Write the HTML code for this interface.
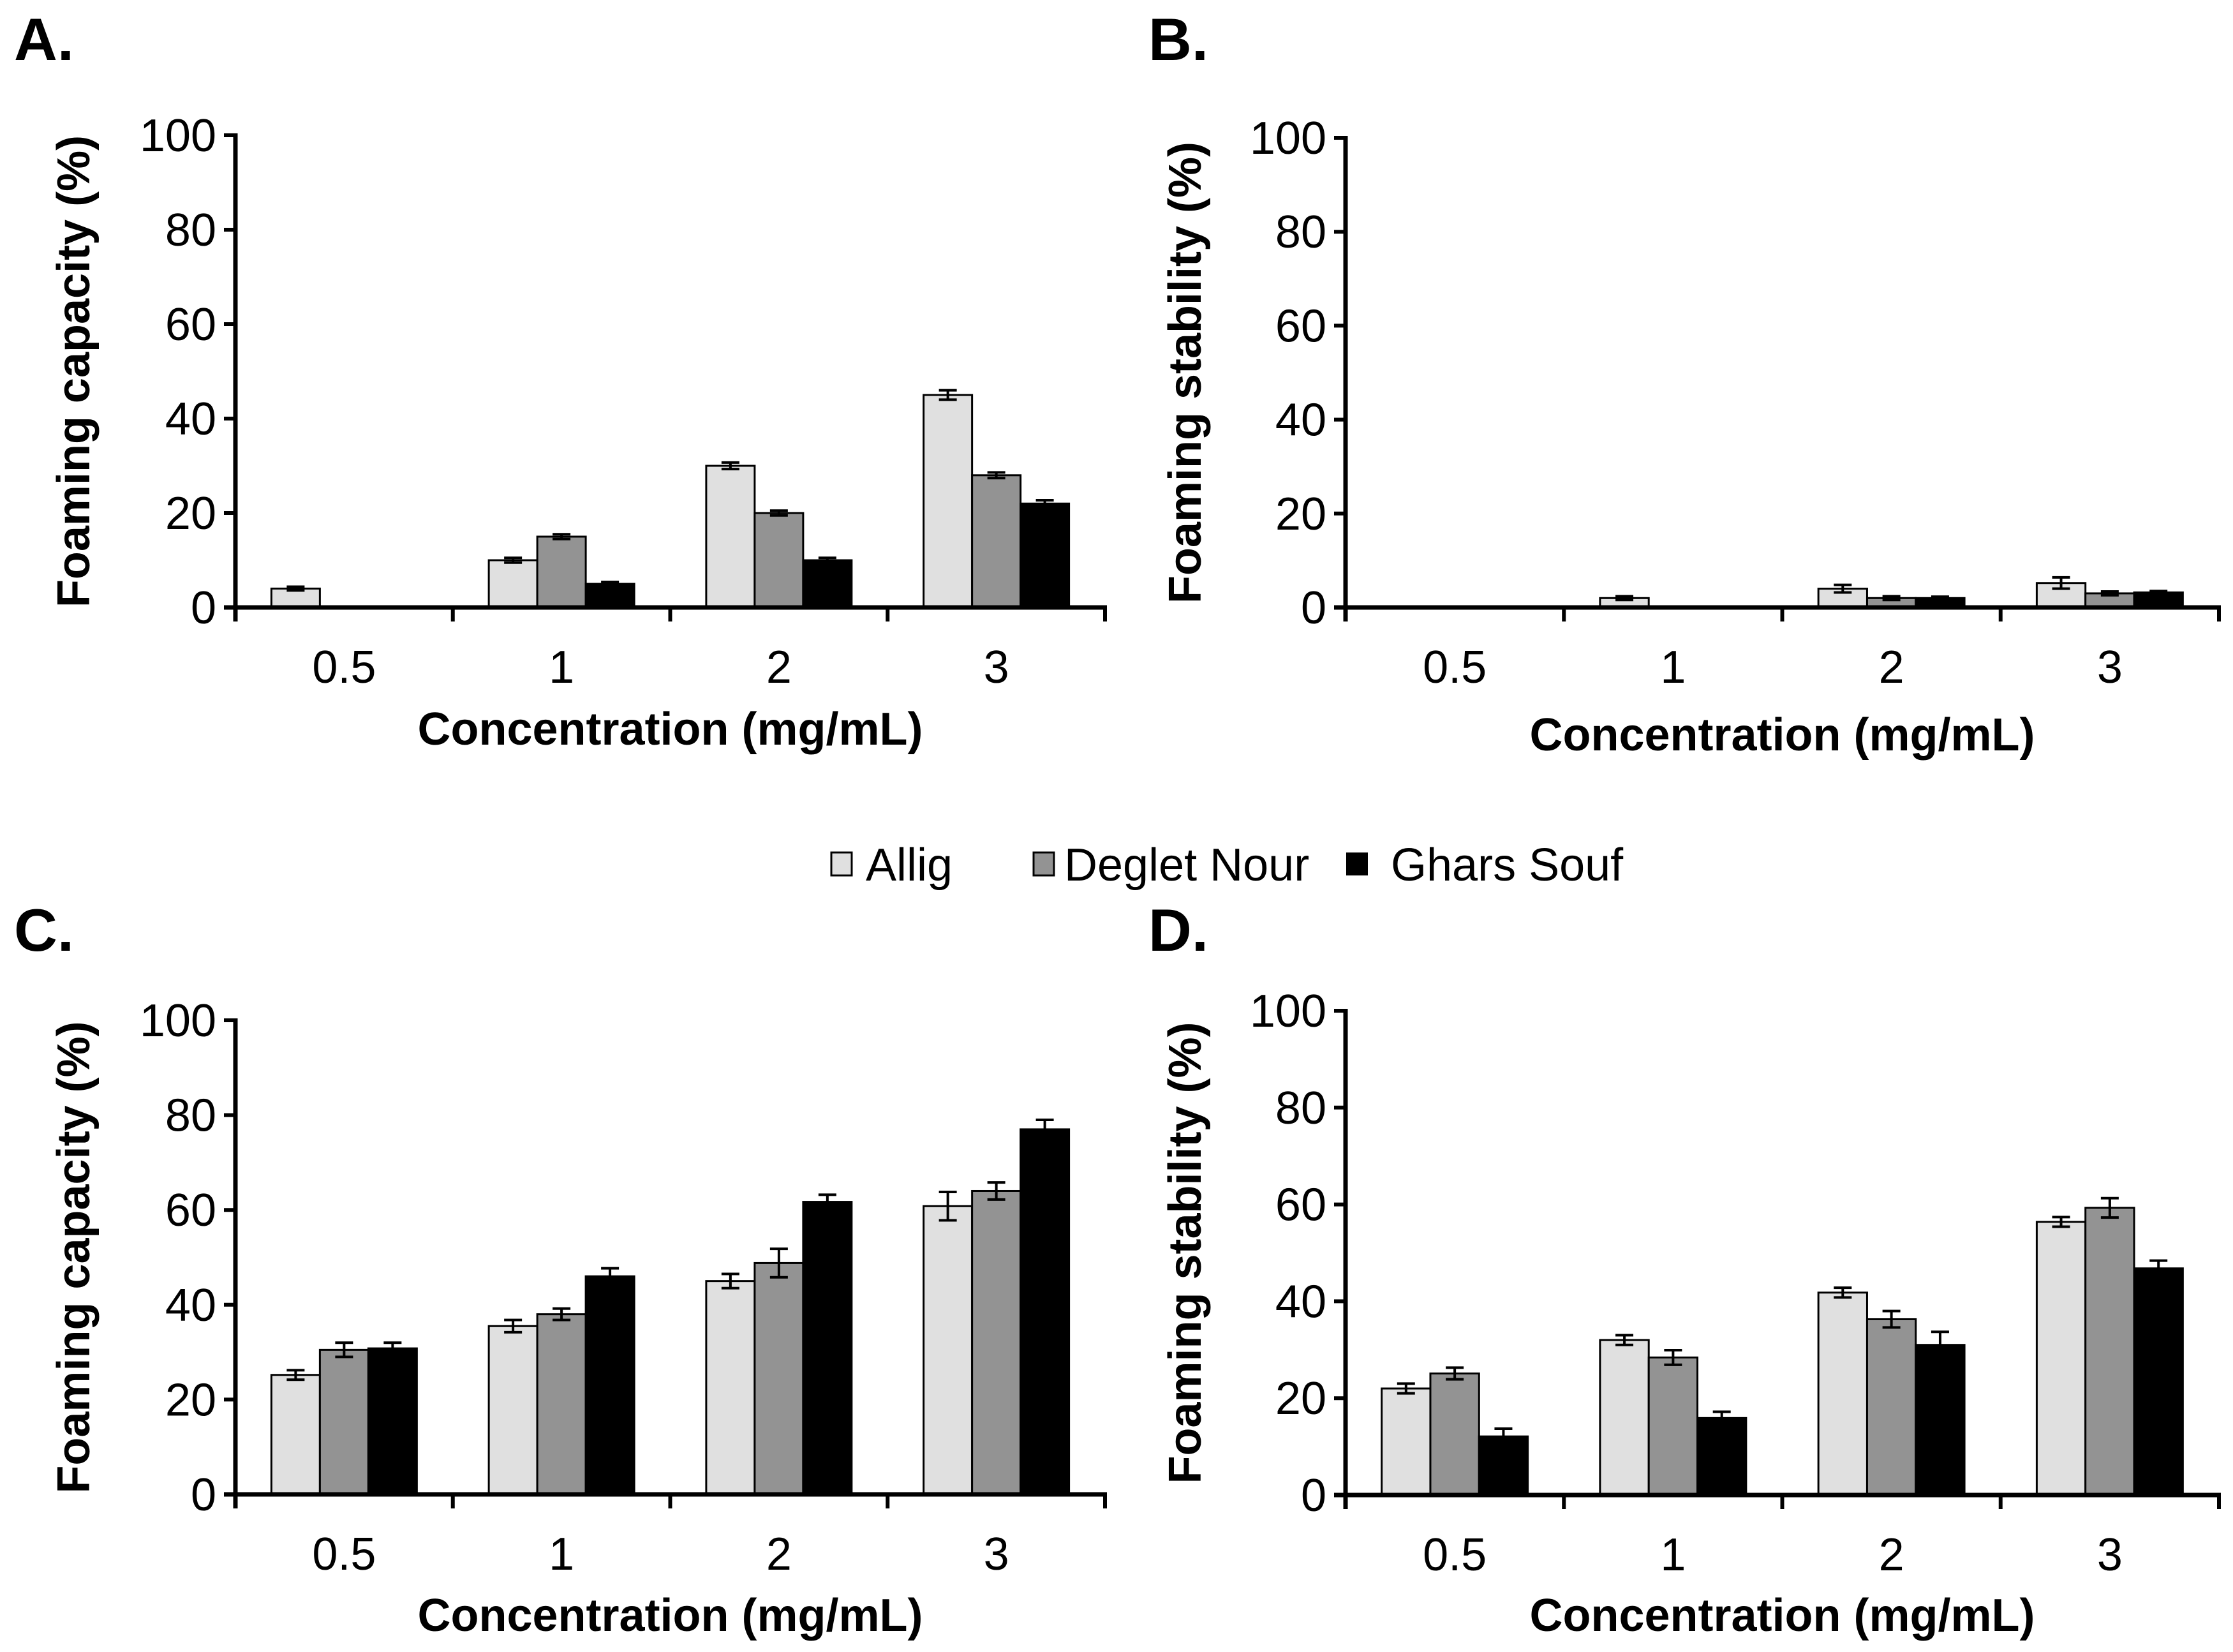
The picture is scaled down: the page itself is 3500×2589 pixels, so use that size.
<!DOCTYPE html>
<html><head><meta charset="utf-8"><style>
html,body{margin:0;padding:0;background:#fff;}
svg{display:block;font-family:"Liberation Sans",Arial,sans-serif;}
</style></head><body>
<svg id="fig" width="3500" height="2589" viewBox="0 0 3500 2589" xmlns="http://www.w3.org/2000/svg">
<text x="22" y="94" font-size="94" font-weight="bold">A.</text>
<text x="1800" y="94" font-size="94" font-weight="bold">B.</text>
<text x="22" y="1490" font-size="94" font-weight="bold">C.</text>
<text x="1800" y="1490" font-size="94" font-weight="bold">D.</text>
<g font-size="72">
  <rect x="1303" y="1336" width="32" height="36" fill="#e0e0e0" stroke="#000" stroke-width="3"/>
  <text x="1357" y="1380">Allig</text>
  <rect x="1620" y="1336" width="32" height="36" fill="#939393" stroke="#000" stroke-width="3"/>
  <text x="1668" y="1380">Deglet Nour</text>
  <rect x="2110" y="1336" width="34" height="36" fill="#000"/>
  <text x="2180" y="1380">Ghars Souf</text>
</g>
</svg>
<script>
const categories = ["0.5","1","2","3"];
const yTicks = [0,20,40,60,80,100];
const seriesNames = ["Allig","Deglet Nour","Ghars Souf"];
const seriesColors = ["#e0e0e0","#939393","#000000"];
const aAllig = [4,10,30,45];
const aDeglet = [0,15,20,28];
const aGhars = [0,5,10,22];
const aAlligErr = [0.4,0.5,0.7,1];
const aDegletErr = [0,0.5,0.5,0.6];
const aGharsErr = [0,0.4,0.5,0.7];
const bAllig = [0,2,4,5.2];
const bDeglet = [0,0,2,3];
const bGhars = [0,0,2,3.2];
const bAlligErr = [0,0.4,0.8,1.2];
const bDegletErr = [0,0,0.4,0.4];
const bGharsErr = [0,0,0.3,0.3];
const cAllig = [25.2,35.5,45,60.8];
const cDeglet = [30.5,38,48.8,64];
const cGhars = [30.8,46,61.7,77];
const cAlligErr = [1,1.3,1.5,3];
const cDegletErr = [1.5,1.2,3,1.8];
const cGharsErr = [1.2,1.7,1.5,2];
const dAllig = [22,32,41.8,56.4];
const dDeglet = [25.1,28.4,36.3,59.3];
const dGhars = [12.1,15.9,31,46.8];
const dAlligErr = [1,1,1,1];
const dDegletErr = [1.2,1.5,1.7,2];
const dGharsErr = [1.6,1.3,2.7,1.6];

const NS = "http://www.w3.org/2000/svg";
const svg = document.getElementById("fig");
function mk(tag, attrs, parent){
  const e = document.createElementNS(NS, tag);
  for (const k in attrs) e.setAttribute(k, attrs[k]);
  (parent||svg).appendChild(e);
  return e;
}
function panel(id, x0, x1, y0, y100, yTitle, yTitleX, xTitleY, vals, errs){
  const g = mk("g", {});
  
  
  const yS = v => y0 + (y100 - y0) * v / 100;
  const cw = (x1 - x0) / categories.length;
  const bw = cw * 0.223;
  const off = (cw - 3 * bw) / 2;
  for (let s = 0; s < 3; s++) {
    for (let i = 0; i < categories.length; i++) {
      const v = vals[s][i];
      if (v <= 0) continue;
      const bx = x0 + i * cw + off + s * bw;
      const r = mk("rect", {x: bx, y: yS(v), width: bw, height: y0 - yS(v), fill: seriesColors[s], stroke: "#000", "stroke-width": 3}, g);
      
      
      const e = errs[s][i];
      if (e > 0) {
        const cx = bx + bw / 2;
        const eg = mk("g", {stroke: "#000", "stroke-width": 4}, g);
        
        
        mk("line", {x1: cx, x2: cx, y1: yS(v + e), y2: yS(v - e)}, eg);
        mk("line", {x1: cx - 14, x2: cx + 14, y1: yS(v + e), y2: yS(v + e)}, eg);
        mk("line", {x1: cx - 14, x2: cx + 14, y1: yS(v - e), y2: yS(v - e)}, eg);
      }
    }
  }
  const ya = mk("line", {x1: x0, x2: x0, y1: y100 - 3, y2: y0 + 22, stroke: "#000", "stroke-width": 7}, g);
  
  
  const xa = mk("line", {x1: x0 - 18, x2: x1 + 3, y1: y0, y2: y0, stroke: "#000", "stroke-width": 7}, g);
  
  
  yTicks.forEach(t => {
    mk("line", {x1: x0 - 18, x2: x0, y1: yS(t), y2: yS(t), stroke: "#000", "stroke-width": 6}, g);
    const tl = mk("text", {x: x0 - 30, y: yS(t) + 25, "font-size": 72, "text-anchor": "end"}, g);
    tl.textContent = t;
    
    
  });
  for (let i = 0; i <= categories.length; i++) {
    const tx = x0 + i * cw;
    mk("line", {x1: tx, x2: tx, y1: y0, y2: y0 + 22, stroke: "#000", "stroke-width": 6}, g);
  }
  categories.forEach((c, i) => {
    const tl = mk("text", {x: x0 + (i + 0.5) * cw, y: y0 + 118, "font-size": 72, "text-anchor": "middle"}, g);
    tl.textContent = c;
    
    
  });
  const xt = mk("text", {x: (x0 + x1) / 2, y: xTitleY, "font-size": 72, "font-weight": "bold", "text-anchor": "middle"}, g);
  xt.textContent = "Concentration (mg/mL)";
  
  
  const ycy = (y0 + y100) / 2;
  const yt = mk("text", {x: yTitleX, y: ycy, "font-size": 72, "font-weight": "bold", "text-anchor": "middle", transform: "rotate(-90 " + yTitleX + " " + ycy + ")"}, g);
  yt.textContent = yTitle;
  
  
}
panel("a", 369, 1732, 952, 212, "Foaming capacity (%)", 140, 1167, [aAllig, aDeglet, aGhars], [aAlligErr, aDegletErr, aGharsErr]);
panel("b", 2109, 3478, 952, 216, "Foaming stability (%)", 1882, 1176, [bAllig, bDeglet, bGhars], [bAlligErr, bDegletErr, bGharsErr]);
panel("c", 369, 1732, 2342, 1599, "Foaming capacity (%)", 140, 2556, [cAllig, cDeglet, cGhars], [cAlligErr, cDegletErr, cGharsErr]);
panel("d", 2109, 3478, 2343, 1584, "Foaming stability (%)", 1882, 2556, [dAllig, dDeglet, dGhars], [dAlligErr, dDegletErr, dGharsErr]);
</script>
</body></html>
